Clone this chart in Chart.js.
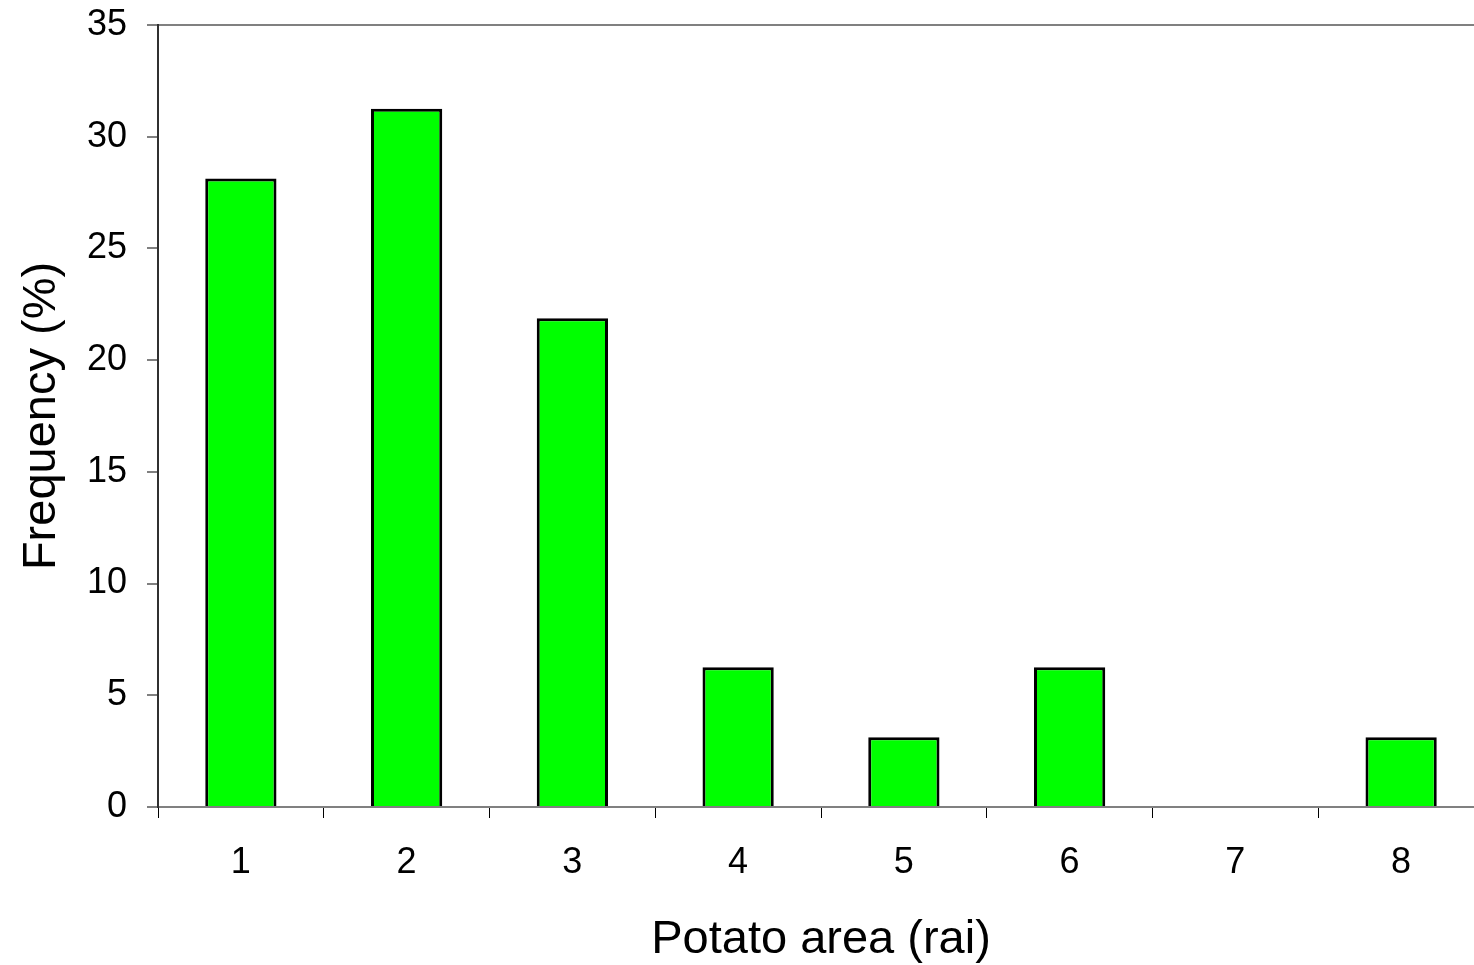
<!DOCTYPE html>
<html>
<head>
<meta charset="utf-8">
<script src="https://cdn.jsdelivr.net/npm/chart.js@4"></script>
<style>
  html, body { margin: 0; padding: 0; background: #fff; overflow: hidden; }
  #wrap { width: 1484px; height: 965px; }
</style>
</head>
<body>
<div id="wrap"><canvas id="c" width="1484" height="965"></canvas></div>
<script>
const categories = ["1", "2", "3", "4", "5", "6", "7", "8"];
const frequency = [28.125, 31.25, 21.875, 6.25, 3.125, 6.25, 0, 3.125];
const yTicks = [0, 5, 10, 15, 20, 25, 30, 35];
const xTitle = "Potato area (rai)";
const yTitle = "Frequency (%)";

const FONT = "'Liberation Sans', Arial, sans-serif";

new Chart(document.getElementById('c'), {
  type: 'bar',
  data: {
    labels: categories,
    datasets: [{
      data: frequency,
      backgroundColor: '#00FF00',
      borderColor: '#000000',
      borderWidth: 3,
      borderSkipped: 'bottom',
      categoryPercentage: 1.0,
      barPercentage: 0.43
    }]
  },
  options: {
    responsive: false,
    animation: false,
    devicePixelRatio: 1,
    layout: { padding: { top: 25, left: 0, right: 0, bottom: 0 } },
    plugins: { legend: { display: false }, tooltip: { enabled: false } },
    scales: {
      x: {
        position: 'bottom',
        grid: { display: true, drawOnChartArea: false, drawTicks: true, tickLength: 11, color: '#000000', lineWidth: 1, offset: true },
        border: { display: true, color: '#808080', width: 2 },
        ticks: { color: '#000', font: { family: FONT, size: 36 }, padding: 23, maxRotation: 0 },
        title: { display: true, text: xTitle, color: '#000', font: { family: FONT, size: 47 }, padding: { top: 0, bottom: -3 } },
        afterFit: s => { s.height = 158; s.paddingLeft = 0; s.paddingRight = 0; }
      },
      x2: {
        position: 'top',
        type: 'category',
        labels: categories,
        grid: { display: false },
        border: { display: true, color: '#808080', width: 2 },
        ticks: { display: false },
        afterFit: s => { s.height = 0; s.paddingLeft = 0; s.paddingRight = 0; }
      },
      y: {
        min: 0,
        max: 35,
        afterBuildTicks: s => { s.ticks = yTicks.map(v => ({ value: v })); },
        grid: { display: true, drawOnChartArea: false, drawTicks: true, tickLength: 11, color: '#808080', lineWidth: 2 },
        border: { display: true, color: '#303030', width: 2 },
        ticks: { color: '#000', font: { family: FONT, size: 36 }, padding: 20 },
        title: { display: true, text: yTitle, color: '#000', font: { family: FONT, size: 47 }, padding: { top: 14, bottom: 0 } },
        afterFit: s => { s.width = 158; s.paddingTop = 0; s.paddingBottom = 0; }
      }
    }
  }
});
</script>
</body>
</html>
